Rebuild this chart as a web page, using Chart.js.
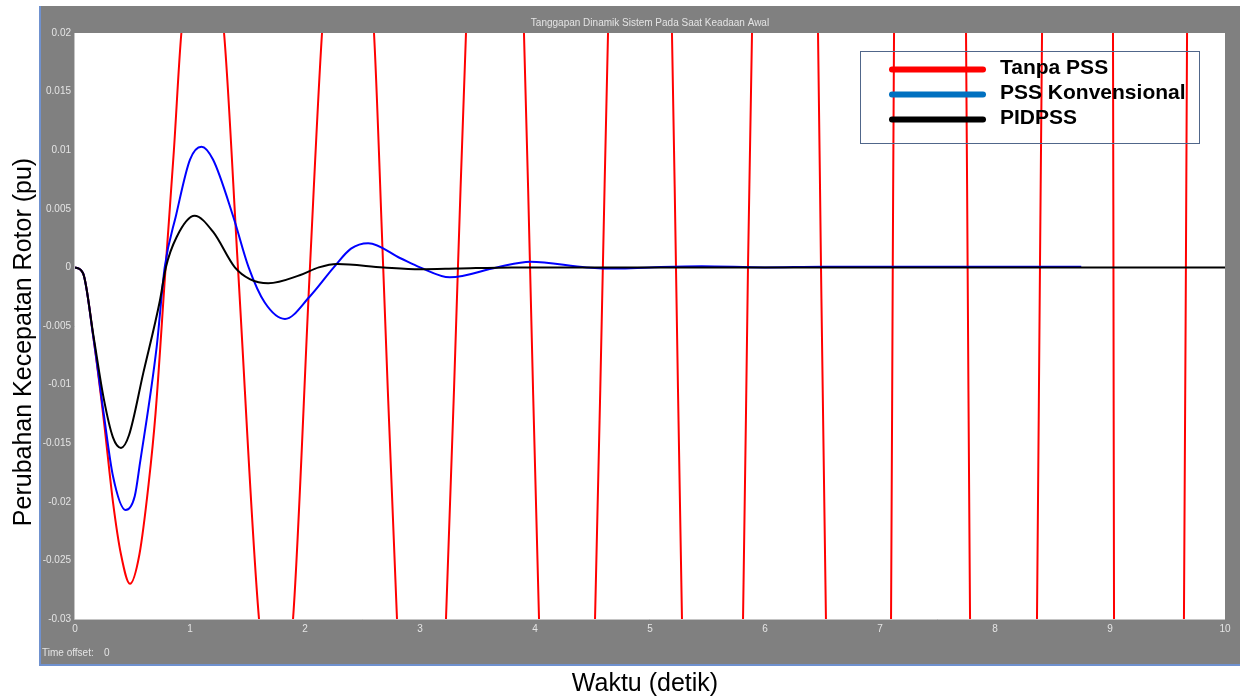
<!DOCTYPE html>
<html lang="id">
<head>
    <meta charset="UTF-8">
    <title>Tanggapan Dinamik Sistem Pada Saat Keadaan Awal</title>
    <script src="https://cdn.jsdelivr.net/npm/chart.js"></script>
    <style>
        body { margin: 0; background: #fff; }
        canvas { display: block; }
    </style>
</head>
<body>
    <canvas id="scopeChart" width="1240" height="700"></canvas>
    <script>
        // nilai (waktu dalam detik, perubahan kecepatan dalam pu)
        const seriesNames = ['Tanpa PSS', 'PSS Konvensional', 'PIDPSS'];

        const tanpaT = [0, 0.07, 0.16, 0.25, 0.33, 0.40, 0.478, 0.56, 0.64, 0.70, 0.788, 0.86, 0.925,
            1.11, 1.296, 1.417, 1.60, 1.748, 1.896, 2.043, 2.148, 2.374, 2.60, 2.68, 2.80, 3.013,
            3.226, 3.33, 3.40, 3.652, 3.904, 3.957, 4.035, 4.278, 4.522, 4.59, 4.635, 4.913,
            5.191, 5.226, 5.278, 5.543, 5.809, 5.852, 5.887, 6.174, 6.461, 6.487, 6.530, 6.813,
            7.096, 7.111, 7.122, 7.43, 7.748, 7.762, 7.783, 8.074, 8.365, 8.391, 8.409, 8.717,
            9.026, 9.03, 9.035, 9.339, 9.643, 9.66, 9.67, 10];
        const tanpaY = [0, -0.0005, -0.006, -0.013, -0.020, -0.0245, -0.027, -0.0245, -0.0185, -0.0125, 0, 0.010, 0.02,
            0.0325, 0.02, 0, -0.03, -0.040, -0.03, 0, 0.02, 0.046, 0.02, 0, -0.03, -0.061,
            -0.03, 0, 0.02, 0.068, 0.02, 0, -0.03, -0.084, -0.03, 0, 0.02, 0.105,
            0.02, 0, -0.03, -0.125, -0.03, 0, 0.02, 0.150, 0.02, 0, -0.03, -0.180,
            -0.03, 0, 0.02, 0.215, 0.02, 0, -0.03, -0.26, -0.03, 0, 0.02, 0.31,
            0.02, 0, -0.03, -0.37, -0.03, 0, 0.02, 0.44];

        const konvT = [0, 0.07, 0.16, 0.25, 0.33, 0.44, 0.52, 0.565, 0.71, 0.78, 0.88, 1.0, 1.10, 1.20,
            1.377, 1.51, 1.65, 1.826, 2.04, 2.25, 2.40, 2.55, 2.83, 3.0, 3.26, 3.667, 3.96,
            4.45, 4.71, 5.0, 5.45, 6.0, 6.5, 8.75];
        const konvY = [0, -0.0005, -0.006, -0.0125, -0.0178, -0.0207, -0.0195, -0.0167, -0.0068, 0, 0.0045, 0.0092, 0.0103, 0.0092,
            0.0043, 0, -0.0030, -0.0044, -0.0025, 0, 0.0016, 0.00206, 0.00078, 0, -0.00085, 0, 0.00049,
            0, -0.0001, 0, 0.0001, 0, 0.00005, 0.00005];

        const pidT = [0, 0.07, 0.16, 0.25, 0.33, 0.40, 0.47, 0.594, 0.739, 0.79, 0.884, 1.04, 1.203,
            1.39, 1.52, 1.68, 1.96, 2.12, 2.28, 2.68, 3.0, 3.32, 3.8, 10];
        const pidY = [0, -0.0005, -0.0058, -0.0112, -0.0145, -0.0154, -0.0143, -0.009, -0.0028, 0, 0.0026, 0.0044, 0.003,
            0, -0.0010, -0.00136, -0.00065, 0, 0.00029, 0, -0.00016, -0.0001, 0, 0];

        const toPoints = (xs, ys) => xs.map((x, i) => ({ x: x, y: ys[i] }));

        const FONT = "'Liberation Sans', Arial, sans-serif";

        // bingkai abu-abu gaya scope simulink + teks + legenda
        const scopeFrame = {
            id: 'scopeFrame',
            beforeDraw(chart) {
                const ctx = chart.ctx, a = chart.chartArea;
                ctx.save();
                ctx.fillStyle = '#ffffff';
                ctx.fillRect(0, 0, chart.width, chart.height);
                ctx.fillStyle = '#808080';
                ctx.fillRect(40, 6, chart.width - 40, 660);
                ctx.fillStyle = '#ffffff';
                ctx.fillRect(a.left, a.top, a.right - a.left, a.bottom - a.top);
                ctx.strokeStyle = '#6f91cf';
                ctx.lineWidth = 2;
                ctx.beginPath();
                ctx.moveTo(40, 6); ctx.lineTo(40, 665); ctx.lineTo(chart.width, 665);
                ctx.stroke();
                ctx.restore();
            },
            afterDraw(chart) {
                const ctx = chart.ctx, a = chart.chartArea;
                ctx.save();
                ctx.strokeStyle = '#c4c4c4';
                ctx.lineWidth = 1;
                ctx.beginPath();
                ctx.moveTo(a.left - 0.5, a.top); ctx.lineTo(a.left - 0.5, a.bottom + 0.5); ctx.lineTo(a.right, a.bottom + 0.5);
                ctx.stroke();

                ctx.fillStyle = '#e4e4e4';
                ctx.font = '10px ' + FONT;
                ctx.textBaseline = 'middle';
                ctx.textAlign = 'center';
                ctx.fillText('Tanggapan Dinamik Sistem Pada Saat Keadaan Awal', (a.left + a.right) / 2, 23);
                ctx.textAlign = 'left';
                ctx.fillText('Time offset:', 42, 653);
                ctx.fillText('0', 104, 653);

                ctx.fillStyle = '#000000';
                ctx.font = '25px ' + FONT;
                ctx.textAlign = 'center';
                ctx.fillText('Waktu (detik)', 645, 684);
                ctx.translate(24, 342);
                ctx.rotate(-Math.PI / 2);
                ctx.fillText('Perubahan Kecepatan Rotor (pu)', 0, 0);
                ctx.restore();

                // legenda
                ctx.save();
                ctx.strokeStyle = '#50668a';
                ctx.lineWidth = 1;
                ctx.strokeRect(860.5, 51.5, 339, 92);
                const legendColors = ['#ff0000', '#0070c0', '#000000'];
                ctx.lineCap = 'round';
                ctx.lineWidth = 6;
                ctx.font = 'bold 21px ' + FONT;
                ctx.textAlign = 'left';
                ctx.textBaseline = 'middle';
                seriesNames.forEach((name, i) => {
                    const y = 69.5 + i * 25;
                    ctx.strokeStyle = legendColors[i];
                    ctx.beginPath();
                    ctx.moveTo(892, y); ctx.lineTo(983, y);
                    ctx.stroke();
                    ctx.fillStyle = '#000000';
                    ctx.fillText(name, 1000, y - 1);
                });
                ctx.restore();
            }
        };

        new Chart(document.getElementById('scopeChart'), {
            type: 'line',
            data: {
                datasets: [
                    { label: seriesNames[0], data: toPoints(tanpaT, tanpaY), borderColor: '#ff0000', order: 3 },
                    { label: seriesNames[1], data: toPoints(konvT, konvY), borderColor: '#0000ff', order: 2 },
                    { label: seriesNames[2], data: toPoints(pidT, pidY), borderColor: '#000000', order: 1 }
                ]
            },
            options: {
                responsive: false,
                animation: false,
                devicePixelRatio: 1,
                layout: { padding: { top: 33, right: 15, left: 0, bottom: 0 } },
                datasets: {
                    line: {
                        borderWidth: 2,
                        pointRadius: 0,
                        fill: false,
                        cubicInterpolationMode: 'monotone',
                        clip: 0
                    }
                },
                plugins: { legend: { display: false }, tooltip: { enabled: false }, title: { display: false } },
                scales: {
                    x: {
                        type: 'linear', min: 0, max: 10,
                        grid: { display: false, drawTicks: false },
                        border: { display: false },
                        ticks: { stepSize: 1, color: '#e4e4e4', font: { size: 10, family: FONT }, padding: 4, maxRotation: 0 },
                        afterFit(scale) { scale.height = 81; }
                    },
                    y: {
                        type: 'linear', min: -0.03, max: 0.02,
                        grid: { display: false, drawTicks: false },
                        border: { display: false },
                        ticks: {
                            stepSize: 0.005, color: '#e4e4e4', font: { size: 10, family: FONT }, padding: 4,
                            callback: v => String(Number(v.toFixed(3)))
                        },
                        afterFit(scale) { scale.width = 75; }
                    }
                }
            },
            plugins: [scopeFrame]
        });
    </script>
</body>
</html>
